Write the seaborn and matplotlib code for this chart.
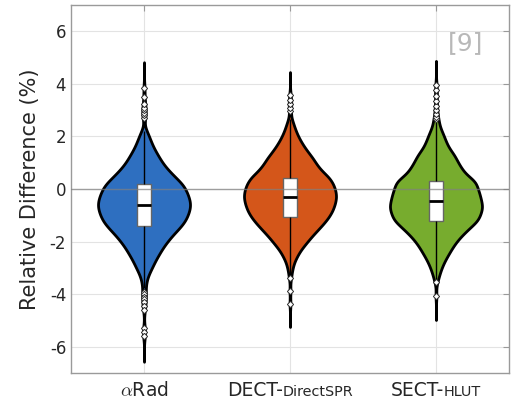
import numpy as np
import pandas as pd
import matplotlib
matplotlib.use("Agg")
import matplotlib.pyplot as plt
import seaborn as sns
from matplotlib.offsetbox import TextArea, HPacker, AnnotationBbox

# ---- data: relative range differences (%) as binned values + counts ----
groups = ["aRad", "DECT", "SECT"]
label_main = [r"$\alpha$Rad", "DECT-", "SECT-"]
label_small = ["", "DirectSPR", "HLUT"]
colors = ["#2e6fc0", "#d4561a", "#77ac2e"]

arad_bins = [2.2, 2.0, 1.8, 1.6, 1.4, 1.2, 1.0, 0.8, 0.6, 0.4, 0.2, 0.0, -0.2,
             -0.4, -0.6, -0.8, -1.0, -1.2, -1.4, -1.6, -1.8, -2.0, -2.2, -2.4,
             -2.6, -2.8, -3.0, -3.2, -3.4, -3.6, -3.78]
arad_counts = [3, 5, 7, 9, 12, 15, 18, 22, 27, 32, 38, 41, 43,
               45, 46, 45, 43, 41, 37, 32, 27, 23, 19, 16,
               13, 10, 8, 5, 3, 2, 1]
arad_outliers = [2.7, 2.8, 2.9, 3.0, 3.1, 3.25, 3.5, 3.85,
                 -3.9, -4.0, -4.1, -4.2, -4.3, -4.45, -4.6, -5.3, -5.45, -5.6]

dect_bins = [2.66, 2.43, 2.18, 1.93, 1.68, 1.43, 1.18, 0.93, 0.68, 0.43, 0.18,
             -0.07, -0.32, -0.57, -0.82, -1.07, -1.32, -1.57, -1.82, -2.07,
             -2.32, -2.57, -2.82, -3.07, -3.30]
dect_counts = [2, 5, 8, 12, 17, 23, 30, 35, 42, 52, 57,
               60, 61, 59, 56, 51, 44, 36, 28, 21,
               14, 9, 5, 3, 1]
dect_outliers = [2.95, 3.1, 3.25, 3.4, 3.57, -3.4, -3.87, -4.37]

sect_bins = [2.55, 2.30, 2.05, 1.80, 1.55, 1.30, 1.05, 0.80, 0.55, 0.30, 0.05,
             -0.20, -0.45, -0.70, -0.95, -1.20, -1.45, -1.70, -1.95, -2.20,
             -2.45, -2.70, -2.95, -3.20, -3.43]
sect_counts = [3, 6, 10, 13, 17, 24, 28, 33, 39, 52, 54,
               57, 59, 61, 58, 55, 45, 36, 28, 22,
               17, 12, 8, 5, 2]
sect_outliers = [2.65, 2.75, 2.85, 3.0, 3.15, 3.35, 3.55, 3.75, 3.95,
                 -3.55, -4.06]

yticks = [-6, -4, -2, 0, 2, 4, 6]


def expand(bins, counts, outliers):
    return np.concatenate([np.repeat(bins, counts), outliers])


samples = [expand(arad_bins, arad_counts, arad_outliers),
           expand(dect_bins, dect_counts, dect_outliers),
           expand(sect_bins, sect_counts, sect_outliers)]
df = pd.DataFrame({
    "group": np.concatenate([[g] * len(s) for g, s in zip(groups, samples)]),
    "value": np.concatenate(samples),
})

# ---- styling ----
sns.set_style("white")
plt.rcParams["font.family"] = ["DejaVu Sans"]
plt.rcParams["mathtext.fontset"] = "cm"
plt.rcParams["axes.unicode_minus"] = False
text_color = "#262626"
frame_color = "#9a9a9a"

fig = plt.figure(figsize=(5.11, 4.03), dpi=100)
ax = fig.add_axes([0.139, 0.0744, 0.857, 0.9132])

sns.violinplot(data=df, x="group", y="value", hue="group", order=groups,
               palette=colors, legend=False, inner=None, cut=5.0,
               bw_adjust=0.55, density_norm="width", width=0.63, linewidth=2,
               linecolor="black", saturation=1, gridsize=400, ax=ax)

sns.boxplot(data=df, x="group", y="value", order=groups, width=0.1,
            showcaps=False, whis=1.5, ax=ax,
            boxprops=dict(facecolor="white", edgecolor="#666666", linewidth=1),
            whiskerprops=dict(color="black", linewidth=1),
            medianprops=dict(color="black", linewidth=2, zorder=5),
            flierprops=dict(marker="D", markerfacecolor="white",
                            markeredgecolor="#333333", markersize=3.2,
                            markeredgewidth=0.7))

ax.axhline(0, color="#808080", linewidth=1, alpha=0.7, zorder=6)

ax.set_xlim(-0.5, 2.5)
ax.set_ylim(-7, 7)
ax.set_yticks(yticks)
ax.set_yticklabels([str(t) for t in yticks])
ax.set_xticks(range(len(groups)))
ax.set_xticklabels([])
ax.set_xlabel("")
ax.set_ylabel("Relative Difference (%)", fontsize=15, color=text_color,
              labelpad=7)

ax.grid(True, color="#e3e3e3", linewidth=0.8)
ax.set_axisbelow(True)
for s in ax.spines.values():
    s.set_color(frame_color)
    s.set_linewidth(1)
ax.tick_params(axis="both", direction="in", length=4, color=frame_color,
               top=True, right=True, labelsize=12, labelcolor=text_color)

# category labels with a smaller suffix
for i, (main, small) in enumerate(zip(label_main, label_small)):
    parts = [TextArea(main, textprops=dict(size=13.5, color=text_color))]
    if small:
        parts.append(TextArea(small, textprops=dict(size=10.4, color=text_color)))
    packed = HPacker(children=parts, align="baseline", pad=0, sep=0)
    ab = AnnotationBbox(packed, (i, 0), xycoords=("data", "axes fraction"),
                        xybox=(0, -6), boxcoords="offset points",
                        box_alignment=(0.5, 1), frameon=False,
                        annotation_clip=False)
    ax.add_artist(ab)

ax.text(0.902, 0.897, "[9]", transform=ax.transAxes, fontsize=18,
        color="#b8b8b8", ha="center", va="center")

fig.savefig("out.png", dpi=100)
